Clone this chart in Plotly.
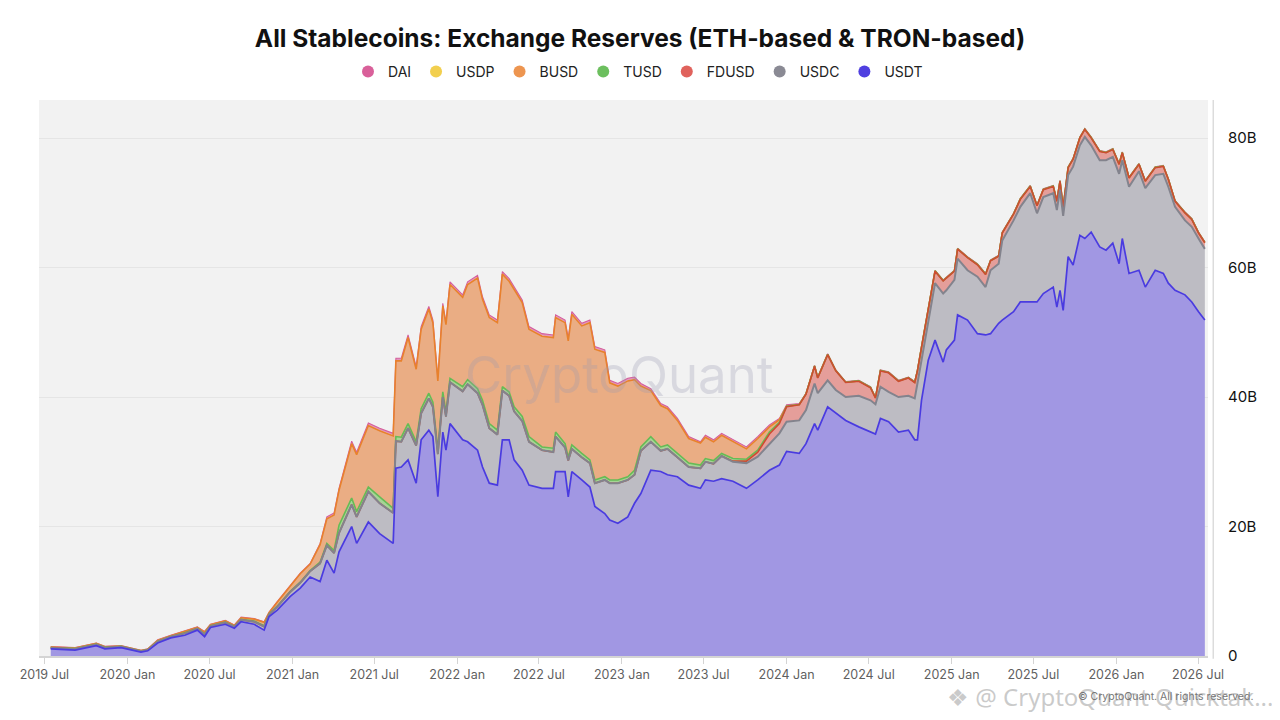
import numpy as np
import plotly.graph_objects as go

# values, in billions of USD
dates = [
    "2019-07-15", "2019-09-07", "2019-10-24", "2019-11-12", "2019-12-18", "2020-01-09", "2020-01-31", "2020-02-15", "2020-03-08", "2020-04-06",
    "2020-05-07", "2020-06-04", "2020-06-20", "2020-07-03", "2020-08-05", "2020-08-25", "2020-09-09", "2020-10-08", "2020-10-30", "2020-11-10",
    "2020-11-28", "2020-12-27", "2021-01-18", "2021-02-09", "2021-03-03", "2021-03-18", "2021-04-03", "2021-04-14", "2021-05-12", "2021-05-23",
    "2021-06-18", "2021-07-13", "2021-08-12", "2021-08-18", "2021-08-30", "2021-09-14", "2021-10-02", "2021-10-13", "2021-10-30", "2021-11-08",
    "2021-11-19", "2021-11-30", "2021-12-07", "2021-12-16", "2022-01-13", "2022-01-24", "2022-02-15", "2022-02-26", "2022-03-13", "2022-03-31",
    "2022-04-11", "2022-04-26", "2022-05-07", "2022-05-25", "2022-06-09", "2022-07-08", "2022-08-02", "2022-08-07", "2022-08-28", "2022-09-04",
    "2022-09-12", "2022-10-04", "2022-10-22", "2022-11-02", "2022-11-24", "2022-12-05", "2022-12-23", "2023-01-14", "2023-01-29", "2023-02-12",
    "2023-03-06", "2023-03-28", "2023-04-12", "2023-05-04", "2023-05-29", "2023-06-24", "2023-07-05", "2023-07-23", "2023-08-10", "2023-09-04",
    "2023-10-04", "2023-10-29", "2023-11-24", "2023-12-16", "2024-01-01", "2024-01-29", "2024-02-13", "2024-03-03", "2024-03-10", "2024-04-01",
    "2024-04-19", "2024-05-11", "2024-06-09", "2024-07-05", "2024-07-16", "2024-07-27", "2024-08-14", "2024-09-05", "2024-09-27", "2024-10-11",
    "2024-10-17", "2024-10-26", "2024-11-10", "2024-11-25", "2024-12-13", "2024-12-20", "2025-01-07", "2025-01-14", "2025-02-05", "2025-02-27",
    "2025-03-17", "2025-03-28", "2025-04-15", "2025-04-23", "2025-05-18", "2025-06-02", "2025-06-24", "2025-07-09", "2025-07-23", "2025-08-14",
    "2025-08-22", "2025-08-29", "2025-09-05", "2025-09-16", "2025-09-27", "2025-10-12", "2025-10-23", "2025-11-06", "2025-11-25", "2025-12-09",
    "2025-12-24", "2026-01-07", "2026-01-14", "2026-01-29", "2026-02-20", "2026-03-06", "2026-03-28", "2026-04-15", "2026-04-26", "2026-05-11",
    "2026-06-02", "2026-06-17", "2026-07-02", "2026-07-16",
]

usdt = [
    1.1, 0.9, 1.6, 1.1, 1.3, 1.0, 0.6, 0.8, 2.0, 2.8,
    3.2, 4.0, 3.0, 4.4, 4.9, 4.3, 5.3, 4.9, 4.0, 6.1,
    7.1, 9.2, 10.5, 12.2, 11.5, 14.8, 12.8, 16.1, 20.0, 17.4,
    20.7, 18.9, 17.4, 29.0, 29.2, 30.3, 26.7, 33.4, 34.9, 33.9,
    24.6, 34.6, 31.8, 35.9, 33.4, 33.1, 31.8, 29.2, 26.7, 26.4,
    33.4, 33.4, 30.3, 28.7, 26.4, 25.9, 25.9, 28.5, 28.5, 24.6,
    28.5, 27.2, 26.1, 23.1, 22.0, 21.0, 20.5, 21.5, 23.6, 25.1,
    28.7, 28.5, 28.0, 27.7, 26.4, 25.9, 27.2, 27.0, 27.4, 27.0,
    25.9, 27.2, 28.7, 29.5, 31.6, 31.3, 32.8, 35.9, 34.9, 38.5,
    37.5, 36.4, 35.4, 34.6, 34.3, 36.7, 36.2, 34.6, 34.9, 33.4,
    33.4, 39.5, 45.7, 48.8, 45.4, 47.3, 48.8, 52.7, 51.9, 49.8,
    49.6, 49.8, 51.4, 51.9, 53.2, 54.7, 54.7, 54.7, 56.0, 57.0,
    53.9, 56.5, 53.4, 61.7, 60.4, 65.0, 64.5, 65.5, 63.2, 62.7,
    63.8, 60.6, 64.5, 59.1, 59.6, 57.0, 59.6, 59.1, 57.6, 56.5,
    55.8, 54.7, 53.2, 51.9,
]

usdc = [
    0.15, 0.18, 0.18, 0.18, 0.13, 0.13, 0.13, 0.13, 0.22, 0.18,
    0.30, 0.22, 0.35, 0.22, 0.26, 0.22, 0.30, 0.40, 0.55, 0.30,
    0.5, 0.7, 0.8, 0.9, 2.8, 2.3, 3.1, 2.9, 3.4, 4.1,
    4.7, 4.7, 4.7, 4.2, 3.9, 4.9, 5.8, 4.1, 4.9, 4.6,
    6.6, 5.4, 5.2, 6.4, 7.5, 8.9, 8.8, 9.6, 8.5, 7.8,
    7.6, 6.8, 7.5, 7.6, 6.7, 5.9, 5.6, 5.4, 3.7, 5.6,
    3.5, 3.5, 3.7, 3.6, 5.2, 5.7, 6.2, 5.7, 4.4, 6.6,
    4.4, 3.2, 4.0, 3.0, 2.8, 3.1, 2.8, 2.7, 3.5, 3.0,
    3.9, 3.6, 4.1, 4.9, 4.6, 5.1, 5.2, 6.2, 5.7, 4.1,
    3.6, 3.6, 4.8, 4.9, 4.6, 4.9, 4.6, 5.4, 5.3, 6.4,
    8.7, 6.2, 6.2, 8.8, 10.6, 9.2, 9.3, 8.7, 7.7, 8.8,
    7.4, 9.8, 9.2, 12.3, 14.1, 14.7, 16.8, 13.7, 14.9, 14.5,
    15.0, 15.5, 14.6, 12.6, 15.2, 13.9, 15.7, 13.4, 13.4, 13.9,
    13.3, 13.9, 12.1, 13.4, 15.3, 15.3, 14.7, 15.4, 14.9, 12.9,
    11.5, 11.6, 11.3, 11.0,
]

fdusd = [
    0, 0, 0, 0, 0, 0, 0, 0, 0, 0,
    0, 0, 0, 0, 0, 0, 0, 0, 0, 0,
    0, 0, 0, 0, 0, 0, 0, 0, 0, 0,
    0, 0, 0, 0, 0, 0, 0, 0, 0, 0,
    0, 0, 0, 0, 0, 0, 0, 0, 0, 0,
    0, 0, 0, 0, 0, 0, 0, 0, 0, 0,
    0, 0, 0, 0, 0, 0, 0, 0, 0, 0,
    0, 0, 0, 0, 0, 0, 0, 0, 0, 0.1,
    0.3, 0.7, 1.5, 1.5, 2.3, 2.4, 2.45, 2.65, 2.35, 3.95,
    2.95, 2.25, 2.25, 1.95, 0.95, 2.45, 2.95, 2.45, 2.75, 2.45,
    1.95, 1.95, 1.35, 1.85, 1.95, 1.85, 1.35, 1.45, 1.95, 1.85,
    1.95, 1.45, 1.15, 1.15, 0.95, 1.15, 1.05, 1.15, 1.15, 1.05,
    1.35, 1.35, 1.25, 1.15, 1.15, 1.15, 1.15, 1.15, 1.35, 1.15,
    1.15, 1.45, 1.15, 1.35, 1.05, 1.05, 1.15, 1.15, 1.15, 0.85,
    1.15, 1.15, 0.85, 0.95,
]

tusd = [
    0.05, 0.06, 0.06, 0.06, 0.05, 0.05, 0.05, 0.05, 0.06, 0.05,
    0.08, 0.06, 0.08, 0.06, 0.07, 0.06, 0.08, 0.1, 0.12, 0.08,
    0.1, 0.1, 0.1, 0.1, 0.2, 0.3, 0.4, 1.2, 1.0, 0.8,
    0.7, 1.0, 0.7, 0.7, 0.7, 0.7, 0.6, 0.7, 0.8, 0.7,
    0.6, 0.8, 0.7, 0.6, 0.7, 0.7, 0.7, 0.7, 0.7, 0.7,
    0.6, 0.6, 0.7, 0.7, 0.8, 0.5, 0.6, 0.7, 0.6, 0.5,
    0.6, 0.6, 0.5, 0.5, 0.5, 0.5, 0.5, 0.5, 0.7, 0.6,
    0.8, 0.6, 0.6, 0.6, 0.6, 0.5, 0.5, 0.5, 0.4, 0.4,
    0.3, 0.3, 0.3, 0.2, 0.1, 0.05, 0.05, 0.05, 0.05, 0.05,
    0.05, 0.05, 0.05, 0.05, 0.05, 0.05, 0.05, 0.05, 0.05, 0.05,
    0.05, 0.05, 0.05, 0.05, 0.05, 0.05, 0.05, 0.05, 0.05, 0.05,
    0.05, 0.05, 0.05, 0.05, 0.05, 0.05, 0.05, 0.05, 0.05, 0.05,
    0.05, 0.05, 0.05, 0.05, 0.05, 0.05, 0.05, 0.05, 0.05, 0.05,
    0.05, 0.05, 0.05, 0.05, 0.05, 0.05, 0.05, 0.05, 0.05, 0.05,
    0.05, 0.05, 0.05, 0.05,
]

busd = [
    0.08, 0.1, 0.1, 0.1, 0.07, 0.07, 0.07, 0.07, 0.14, 0.11,
    0.22, 0.14, 0.27, 0.14, 0.19, 0.14, 0.22, 0.3, 0.53, 0.22,
    0.6, 0.9, 1.3, 1.0, 2.7, 3.8, 5.5, 5.4, 8.4, 8.8,
    9.5, 10.2, 11.2, 11.7, 11.8, 13.3, 11.2, 12.3, 13.0, 12.3,
    10.7, 13.3, 13.5, 14.5, 13.8, 14.7, 17.1, 15.6, 16.4, 16.6,
    17.4, 17.1, 18.1, 17.6, 16.6, 17.1, 17.1, 17.7, 18.7, 18.0,
    20.2, 19.7, 21.2, 20.2, 19.2, 15.0, 14.5, 14.8, 14.0, 9.4,
    7.1, 6.4, 5.6, 5.1, 3.8, 3.4, 3.3, 2.9, 2.8, 2.6,
    1.6, 1.8, 0.8, 0.4, 0, 0, 0, 0, 0, 0,
    0, 0, 0, 0, 0, 0, 0, 0, 0, 0,
    0, 0, 0, 0, 0, 0, 0, 0, 0, 0,
    0, 0, 0, 0, 0, 0, 0, 0, 0, 0,
    0, 0, 0, 0, 0, 0, 0, 0, 0, 0,
    0, 0, 0, 0, 0, 0, 0, 0, 0, 0,
    0, 0, 0, 0,
]

usdp = [
    0.04, 0.03, 0.03, 0.03, 0.03, 0.03, 0.03, 0.03, 0.04, 0.03,
    0.05, 0.04, 0.05, 0.04, 0.04, 0.04, 0.05, 0.05, 0.05, 0.05,
    0.05, 0.05, 0.05, 0.05, 0.1, 0.1, 0.1, 0.1, 0.1, 0.1,
    0.1, 0.1, 0.1, 0.1, 0.1, 0.1, 0.1, 0.1, 0.1, 0.1,
    0.1, 0.1, 0.1, 0.1, 0.1, 0.1, 0.1, 0.1, 0.1, 0.1,
    0.1, 0.1, 0.1, 0.1, 0.1, 0.1, 0.1, 0.1, 0.1, 0.1,
    0.1, 0.1, 0.1, 0.1, 0.1, 0.1, 0.1, 0.1, 0.1, 0.1,
    0.1, 0.1, 0.1, 0.1, 0.1, 0.1, 0.1, 0.1, 0.1, 0.1,
    0.1, 0.1, 0.1, 0.1, 0.1, 0.05, 0.05, 0.05, 0.05, 0.05,
    0.05, 0.05, 0.05, 0.05, 0.05, 0.05, 0.05, 0.05, 0.05, 0.05,
    0.05, 0.05, 0.05, 0.05, 0.05, 0.05, 0.05, 0.05, 0.05, 0.05,
    0.05, 0.05, 0.05, 0.05, 0.05, 0.05, 0.05, 0.05, 0.05, 0.05,
    0.05, 0.05, 0.05, 0.05, 0.05, 0.05, 0.05, 0.05, 0.05, 0.05,
    0.05, 0.05, 0.05, 0.05, 0.05, 0.05, 0.05, 0.05, 0.05, 0.05,
    0.05, 0.05, 0.05, 0.05,
]

dai = [
    0.03, 0.03, 0.03, 0.03, 0.02, 0.02, 0.02, 0.02, 0.04, 0.03,
    0.05, 0.04, 0.05, 0.04, 0.04, 0.04, 0.05, 0.05, 0.05, 0.05,
    0.05, 0.05, 0.05, 0.05, 0.1, 0.2, 0.2, 0.2, 0.3, 0.3,
    0.3, 0.3, 0.3, 0.3, 0.3, 0.3, 0.3, 0.3, 0.3, 0.3,
    0.3, 0.3, 0.3, 0.3, 0.3, 0.3, 0.3, 0.3, 0.3, 0.3,
    0.3, 0.3, 0.3, 0.3, 0.3, 0.3, 0.3, 0.3, 0.3, 0.3,
    0.3, 0.3, 0.3, 0.3, 0.3, 0.3, 0.3, 0.3, 0.3, 0.3,
    0.2, 0.2, 0.2, 0.2, 0.2, 0.1, 0.2, 0.2, 0.2, 0.2,
    0.2, 0.2, 0.2, 0.1, 0.1, 0.1, 0.05, 0.05, 0.05, 0.05,
    0.05, 0.05, 0.05, 0.05, 0.05, 0.05, 0.05, 0.05, 0.05, 0.05,
    0.05, 0.05, 0.05, 0.05, 0.05, 0.05, 0.05, 0.05, 0.05, 0.05,
    0.05, 0.05, 0.05, 0.05, 0.05, 0.05, 0.05, 0.05, 0.05, 0.05,
    0.05, 0.05, 0.05, 0.05, 0.05, 0.05, 0.05, 0.05, 0.05, 0.05,
    0.05, 0.05, 0.05, 0.05, 0.05, 0.05, 0.05, 0.05, 0.05, 0.05,
    0.05, 0.05, 0.05, 0.05,
]

y_ticks = [0, 20, 40, 60, 80]
y_tick_text = ["0", "20B", "40B", "60B", "80B"]

# bottom -> top: (name, values, fill colour, line colour, legend colour)
stack = [
    ("USDT", usdt, "#a197e3", "#4a3be0", "#4f3fe0"),
    ("USDC", usdc, "#bdbcc3", "#83838d", "#8a8a94"),
    ("FDUSD", fdusd, "#e59e9a", "#cf4b30", "#e0625c"),
    ("TUSD", tusd, "#a6d496", "#66bb55", "#6cbf5e"),
    ("BUSD", busd, "#eaad84", "#e8812c", "#ed9550"),
    ("USDP", usdp, "#f3d57a", "#efc94a", "#f2cf4e"),
    ("DAI", dai, "#e496bd", "#d45f9c", "#d9609a"),
]

fig = go.Figure()

# filled areas, stacked by plotly
for name, vals, fill, line, _ in stack:
    fig.add_trace(go.Scatter(
        x=dates, y=vals, name=name, stackgroup="reserves", mode="lines",
        line=dict(width=0, color=fill), fillcolor=fill, showlegend=False,
        hoverinfo="skip",
    ))

# edge lines on top of the areas; drawn so that the visible colour wins where layers are empty
tops = np.cumsum(np.array([s[1] for s in stack], dtype=float), axis=0)
line_order = [6, 4, 3, 2, 1, 0]
line_width = {0: 1.7, 1: 2.0, 2: 1.6, 3: 1.6, 4: 1.6, 6: 1.1}
for idx in line_order:
    fig.add_trace(go.Scatter(
        x=dates, y=tops[idx], mode="lines",
        line=dict(color=stack[idx][3], width=line_width[idx]),
        showlegend=False, hoverinfo="skip",
    ))

# legend entries with round markers, in the order of the reference
for name, _, _, _, lc in reversed(stack):
    fig.add_trace(go.Scatter(
        x=[None], y=[None], mode="markers", name=name,
        marker=dict(size=15, color=lc), showlegend=True,
    ))

# the page adds an 8px body margin, so the figure is laid out 8px up/left
fig.update_layout(
    width=1280, height=720,
    paper_bgcolor="white", plot_bgcolor="#f2f2f2",
    margin=dict(l=22, r=80, t=92, b=72),
    font=dict(family="Inter, Roboto, sans-serif", color="#222"),
    title=dict(
        text="<b>All Stablecoins: Exchange Reserves (ETH-based & TRON-based)</b>",
        x=632 / 1280, xanchor="center", y=1 - 30 / 720, yanchor="middle", yref="container",
        font=dict(size=24.5, color="#111", family="Inter, sans-serif"),
    ),
    legend=dict(
        orientation="h", x=630 / 1280, xanchor="center", xref="container",
        y=1 - 64 / 720, yanchor="middle", yref="container",
        font=dict(size=14, color="#222"), itemsizing="constant",
        traceorder="normal", bgcolor="rgba(0,0,0,0)",
    ),
    showlegend=True,
    hovermode=False,
)

fig.update_xaxes(
    type="date", range=["2019-06-19", "2026-07-23"],
    tickformat="%Y %b", dtick="M6", tick0="2019-07-01",
    ticks="outside", ticklen=6, tickcolor="#d4d4d4",
    showline=True, linecolor="#d4d4d4", linewidth=1.5,
    showgrid=False, zeroline=False,
    tickfont=dict(size=12.5, color="#5f5f5f"),
)

fig.update_yaxes(
    side="right", range=[0, 85.9],
    tickvals=y_ticks, ticktext=y_tick_text,
    showgrid=True, gridcolor="#e5e5e5", gridwidth=1,
    zeroline=False, showline=False, ticks="",
    ticklabelstandoff=19,
    tickfont=dict(size=15, color="#111"),
)

# right axis rule
fig.add_shape(
    type="line", xref="paper", yref="paper",
    x0=1.0045, x1=1.0045, y0=-0.005, y1=1,
    line=dict(color="#dcdcdc", width=1.5),
)

# watermarks (plot area spans 1178 x 556 px)
fig.add_annotation(
    text="CryptoQuant", xref="paper", yref="paper", x=0.497, y=0.507,
    showarrow=False, font=dict(size=51, color="rgba(150,150,175,0.28)", family="Inter, sans-serif"),
)
fig.add_annotation(
    text="❖ @ CryptoQuant Quicktak...", xref="paper", yref="paper",
    x=1.0577, xanchor="right", y=-0.0737, yanchor="middle",
    showarrow=False, font=dict(size=24, color="rgba(185,185,185,0.75)", family="Noto Sans, sans-serif"),
)
fig.add_annotation(
    text="© CryptoQuant. All rights reserved.", xref="paper", yref="paper",
    x=0.9635, xanchor="center", y=-0.0737, yanchor="middle",
    showarrow=False, font=dict(size=10.5, color="#777"),
)

fig.write_html("out.html")
